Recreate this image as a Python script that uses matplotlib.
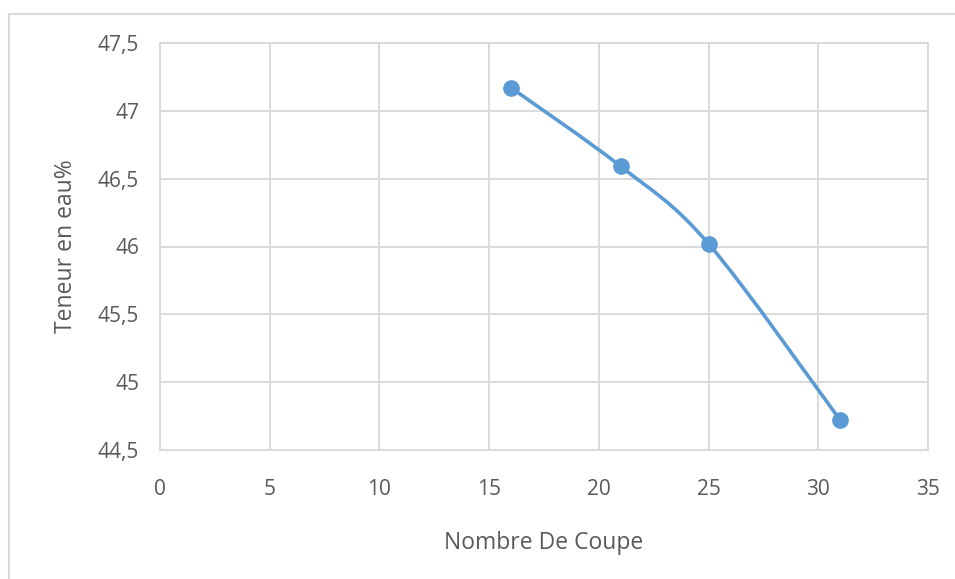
import matplotlib
matplotlib.use("Agg")
import matplotlib.pyplot as plt
from matplotlib.path import Path
from matplotlib.patches import PathPatch
from matplotlib.lines import Line2D

# Data
coupes = [16, 21, 25, 31]
teneur = [47.17, 46.59, 46.02, 44.72]
x_ticks = [0, 5, 10, 15, 20, 25, 30, 35]
y_ticks = [44.5, 45, 45.5, 46, 46.5, 47, 47.5]
y_tick_labels = ["44,5", "45", "45,5", "46", "46,5", "47", "47,5"]
x_label = "Nombre De Coupe"
y_label = "Teneur en eau%"

W, H = 955, 579
plt.rcParams['font.family'] = ['Open Sans', 'DejaVu Sans']
fig = plt.figure(figsize=(W / 100, H / 100), dpi=100)
ax = fig.add_axes([160 / W, 1 - 450 / H, (928 - 160) / W, (450 - 43) / H])

grid_c = "#D9D9D9"
text_c = "#595959"
line_c = "#5B9BD5"

# Excel-style smooth curve (Catmull-Rom Bezier)
pts = list(zip(coupes, teneur))
n = len(pts)
verts = [pts[0]]
codes = [Path.MOVETO]
for i in range(n - 1):
    p0 = pts[i - 1] if i > 0 else pts[i]
    p1 = pts[i]
    p2 = pts[i + 1]
    p3 = pts[i + 2] if i + 2 < n else pts[i + 1]
    c1 = (p1[0] + (p2[0] - p0[0]) / 6, p1[1] + (p2[1] - p0[1]) / 6)
    c2 = (p2[0] - (p3[0] - p1[0]) / 6, p2[1] - (p3[1] - p1[1]) / 6)
    verts += [c1, c2, p2]
    codes += [Path.CURVE4] * 3
patch = PathPatch(Path(verts, codes), facecolor="none", edgecolor=line_c,
                  lw=2.6, capstyle="round", joinstyle="round", zorder=3)
ax.add_patch(patch)
ax.plot(coupes, teneur, linestyle="none", marker="o", markersize=11,
        color=line_c, zorder=4)

ax.set_xlim(0, 35)
ax.set_ylim(44.5, 47.5)
ax.set_xticks(x_ticks)
ax.set_yticks(y_ticks)
ax.set_yticklabels(y_tick_labels)
ax.grid(True, color=grid_c, lw=1.4)
ax.set_axisbelow(True)
for s in ax.spines.values():
    s.set_color(grid_c)
    s.set_linewidth(1.4)
ax.tick_params(length=0, labelsize=15, colors=text_c)
ax.tick_params(axis='x', pad=21)
ax.tick_params(axis='y', pad=15)
ax.set_xlabel(x_label, fontsize=16.5, color=text_c, labelpad=22)
ax.set_ylabel(y_label, fontsize=16.5, color=text_c, labelpad=14)

# Outer chart border
fig.add_artist(Line2D([9 / W, 1], [1 - 14 / H, 1 - 14 / H], transform=fig.transFigure,
                      color=grid_c, lw=1.5))
fig.add_artist(Line2D([9 / W, 9 / W], [0, 1 - 14 / H], transform=fig.transFigure,
                      color=grid_c, lw=1.5))

fig.savefig("out.png", dpi=100)
